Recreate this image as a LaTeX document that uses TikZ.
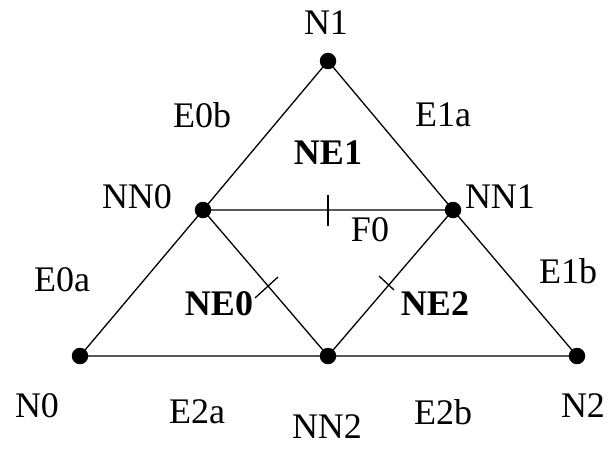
\documentclass[tikz,border=0pt]{standalone}
\usepackage{fontspec}
\setmainfont{Liberation Serif}
\begin{document}
\begin{tikzpicture}[x=1pt,y=-1pt,
  lbl/.style={inner sep=0pt,anchor=center,font=\fontsize{36}{40}\selectfont},
  blbl/.style={lbl,font=\fontsize{36}{40}\selectfont\bfseries},
  edge/.style={line width=1.3pt,black},
  dot/.style={circle,fill=black,inner sep=0pt,minimum size=16.5pt}]
\useasboundingbox (0,0) rectangle (608,448);
\fill[white] (0,0) rectangle (608,448);
% vertices
\coordinate (N1) at (328,61);
\coordinate (N0) at (80,356);
\coordinate (N2) at (577,356);
\coordinate (NN0) at (203,210);
\coordinate (NN1) at (453,210);
\coordinate (NN2) at (328,356);
% edges
\draw[edge] (N1) -- (NN0) -- (N0) -- (NN2) -- (N2) -- (NN1) -- (N1);
\draw[edge] (NN0) -- (NN1) -- (NN2) -- (NN0);
% ticks
\coordinate (t0a) at (328,195);
\coordinate (t0b) at (328,226);
\coordinate (t1a) at (255,298);
\coordinate (t1b) at (278,277);
\coordinate (t2a) at (379,276);
\coordinate (t2b) at (394,290);
\draw[edge] (t0a) -- (t0b);
\draw[edge] (t1a) -- (t1b);
\draw[edge] (t2a) -- (t2b);
% dots
\foreach \p in {N0,N1,N2,NN0,NN1,NN2} \node[dot] (d\p) at (\p) {};
% labels
\node[lbl] (lN1) at (326,23) {N1};
\node[lbl] (lE0b) at (202,115) {E0b};
\node[lbl] (lE1a) at (443,115) {E1a};
\node[blbl] (lNE1) at (328,153) {NE1};
\node[lbl] (lNN0) at (137,197) {NN0};
\node[lbl] (lNN1) at (500,197) {NN1};
\node[lbl] (lF0) at (370,230) {F0};
\node[lbl] (lE0a) at (62,280) {E0a};
\node[lbl] (lE1b) at (568,271) {E1b};
\node[blbl] (lNE0) at (219,304) {NE0};
\node[blbl] (lNE2) at (435,304) {NE2};
\node[lbl] (lN0) at (37,406) {N0};
\node[lbl] (lE2a) at (197,412) {E2a};
\node[lbl] (lNN2) at (327,427) {NN2};
\node[lbl] (lE2b) at (443,412) {E2b};
\node[lbl] (lN2) at (583,406) {N2};
\end{tikzpicture}
\end{document}
